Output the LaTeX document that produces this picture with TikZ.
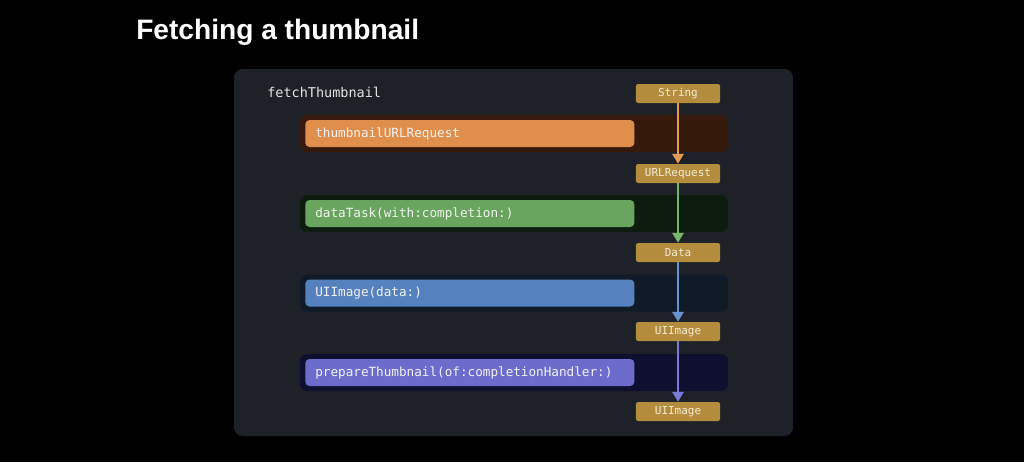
\documentclass[tikz,border=0pt]{standalone}
\usepackage{fontspec}
\setmainfont{Liberation Sans}
\setmonofont{DejaVu Sans Mono}
\usepackage{xcolor}
\usetikzlibrary{arrows.meta,positioning}

\definecolor{panelbg}{HTML}{1E2128}
\definecolor{tagfill}{HTML}{B38C3E}
\definecolor{tagtext}{HTML}{F5ECD6}
\definecolor{bandA}{HTML}{351A0B}
\definecolor{barA}{HTML}{DF8F4B}
\definecolor{arrA}{HTML}{E39A56}
\definecolor{bandB}{HTML}{0E1B0F}
\definecolor{barB}{HTML}{69A55F}
\definecolor{arrB}{HTML}{77B66B}
\definecolor{bandC}{HTML}{101A28}
\definecolor{barC}{HTML}{5581BE}
\definecolor{arrC}{HTML}{6A94CF}
\definecolor{bandD}{HTML}{0F1030}
\definecolor{barD}{HTML}{6C6CCD}
\definecolor{arrD}{HTML}{7A7BD6}

\begin{document}
\begin{tikzpicture}[
    x=0.025cm, y=-0.025cm,
    >={Triangle[width=8pt,length=7pt]},
    tag/.style={fill=tagfill, rounded corners=1.5pt, minimum width=2.1cm, minimum height=0.475cm, inner sep=0pt, text=tagtext, font=\ttfamily\fontsize{7.8}{9}\selectfont},
    band/.style={rounded corners=5pt, minimum width=10.7cm, minimum height=0.925cm, inner sep=0pt},
    bar/.style={rounded corners=3pt, anchor=west, text width=7.725cm, align=left, minimum height=0.675cm, inner xsep=0.25cm, inner ysep=0pt, text=white!95!black, font=\ttfamily\fontsize{9}{11}\selectfont},
    flow/.style={->, line width=1.4pt}
]
% Slide background and code panel.
\fill[black] (0,0) rectangle (1024,462);
\fill[panelbg, rounded corners=6pt] (234,69) rectangle (793,436);
\node[anchor=west, inner sep=0pt, text=white, font=\bfseries\fontsize{20}{23}\selectfont] (title) at (136,32) {Fetching a thumbnail};
\node[anchor=west, inner sep=0pt, text=white!90!black, font=\ttfamily\fontsize{9.6}{11}\selectfont] (func) at (267,92) {fetchThumbnail};

% Steps of the function.
\node[band, fill=bandA] (bandA) at (514,133.5) {};
\node[bar, fill=barA] (stepA) at (305,133.5) {thumbnailURLRequest};
\node[band, fill=bandB] (bandB) at (514,213.5) {};
\node[bar, fill=barB] (stepB) at (305,213.5) {dataTask(with:completion:)};
\node[band, fill=bandC] (bandC) at (514,293) {};
\node[bar, fill=barC] (stepC) at (305,293) {UIImage(data:)};
\node[band, fill=bandD] (bandD) at (514,372.5) {};
\node[bar, fill=barD] (stepD) at (305,372.5) {prepareThumbnail(of:completionHandler:)};

% Types passed between the steps.
\node[tag] (tString) at (678,93.5) {String};
\node[tag] (tRequest) at (678,173.5) {URLRequest};
\node[tag] (tData) at (678,252.5) {Data};
\node[tag] (tImage) at (678,331.5) {UIImage};
\node[tag] (tThumb) at (678,411.5) {UIImage};

% Arrows.
\draw[flow, arrA] (tString) -- (tRequest);
\draw[flow, arrB] (tRequest) -- (tData);
\draw[flow, arrC] (tData) -- (tImage);
\draw[flow, arrD] (tImage) -- (tThumb);

\end{tikzpicture}
\end{document}
